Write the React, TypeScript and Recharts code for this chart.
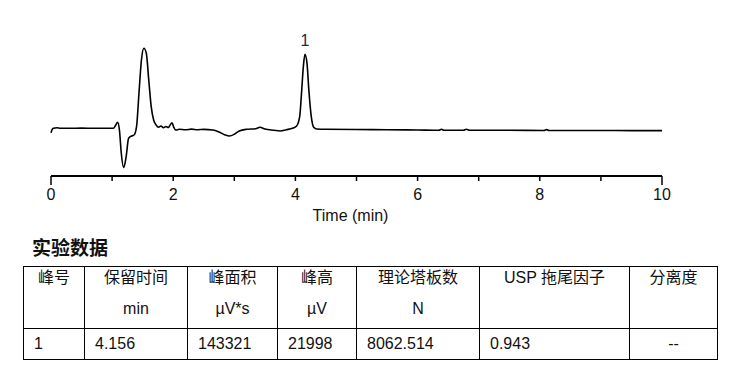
import { LineChart, Line, XAxis, YAxis, ReferenceDot } from "recharts";

// retention time (min) and detector signal (µV)
const times = [
  0, 0.02, 0.04, 0.1, 0.15, 0.3, 0.5, 0.7, 0.9, 1.02, 1.06, 1.09, 1.12, 1.15, 1.19,
  1.23, 1.27, 1.32, 1.36, 1.4, 1.44, 1.48, 1.52, 1.56, 1.6, 1.64, 1.68, 1.72, 1.76,
  1.8, 1.84, 1.88, 1.92, 1.95, 1.98, 2.01, 2.04, 2.1, 2.2, 2.3, 2.4, 2.5, 2.65, 2.75,
  2.85, 2.92, 3.0, 3.08, 3.2, 3.35, 3.42, 3.5, 3.65, 3.75, 3.85, 3.95, 4.02, 4.07,
  4.1, 4.13, 4.156, 4.19, 4.22, 4.26, 4.3, 4.35, 4.5, 5.0, 5.5, 6.0, 6.35, 6.39, 6.43,
  6.75, 6.8, 6.85, 7.5, 8.07, 8.11, 8.15, 9.0, 9.5, 10,
];
const signal = [
  -938, 59, 352, 527, 352, 352, 400, 352, 352, 352, 1318, 2110, -147, -6886, -11193,
  -7970, -2578, -1905, -1612, 820, 10695, 20364, 23792, 22327, 14504, 6680, 2784, 1318, 645,
  1026, 527, 879, 586, 1318, 1992, 645, -147, 59, -59, 100, -60, 30, -147, -733,
  -1612, -1905, -1406, -440, 59, 234, 645, 147, -234, -440, -59, 352, 1026, 3750,
  10607, 18400, 21998, 19397, 11579, 3750, 645, 147, 59, 0, -60, -147, -234, 59, -234,
  -234, 59, -234, -234, -300, -30, -300, -300, -320, -320,
];
const xTicks = [0, 1, 2, 3, 4, 5, 6, 7, 8, 9, 10];

const peakTimes = [4.156];
const peakHeights = [21998];
const peakIds = ["1"];

const headerLines = [
  ["峰号"],
  ["保留时间", "min"],
  ["峰面积", "µV*s"],
  ["峰高", "µV"],
  ["理论塔板数", "N"],
  ["USP 拖尾因子"],
  ["分离度"],
];
const rowValues = [["1", "4.156", "143321", "21998", "8062.514", "0.943", "--"]];
const colWidths = [61, 103, 90, 79, 123, 150, 88];

const data = times.map((t, i) => ({ t, v: signal[i] }));

const FONT = '"Liberation Sans", Arial, "Noto Sans CJK SC", sans-serif';

function TimeTick(props: any) {
  const { x, y, payload } = props;
  const end = payload.value === 0 || payload.value === 10;
  return (
    <g>
      <line x1={x} y1={y} x2={x} y2={y + (end ? 9 : 5)} stroke="#000" strokeWidth={1.5} />
      {payload.value % 2 === 0 && (
        <text x={x} y={y} dy={24} textAnchor="middle" fontSize={16} fill="#111" fontFamily={FONT}>
          {payload.value}
        </text>
      )}
    </g>
  );
}

export default function App() {
  return (
    <div
      style={{
        position: "absolute",
        left: 0,
        top: 0,
        width: 737,
        height: 381,
        background: "#fff",
        fontFamily: FONT,
        color: "#111",
      }}
    >
      <LineChart
        width={737}
        height={230}
        data={data}
        margin={{ top: 20, right: 75, bottom: 8, left: 51 }}
      >
        <XAxis
          dataKey="t"
          type="number"
          domain={[0, 10]}
          ticks={xTicks}
          interval={0}
          height={46}
          tickSize={0}
          tickMargin={0}
          tickLine={false}
          axisLine={{ stroke: "#000", strokeWidth: 2 }}
          tick={<TimeTick />}
          label={{
            value: "Time (min)",
            position: "insideBottom",
            offset: 1,
            dx: -6,
            fontSize: 16,
            fill: "#111",
            fontFamily: FONT,
          }}
        />
        <YAxis hide domain={[-13625, 32084]} allowDataOverflow width={0} />
        <Line
          type="monotone"
          dataKey="v"
          stroke="#000"
          strokeWidth={1.6}
          dot={false}
          isAnimationActive={false}
        />
        {peakTimes.map((pt, i) => (
          <ReferenceDot
            key={peakIds[i]}
            x={pt}
            y={peakHeights[i]}
            r={0}
            stroke="none"
            fill="none"
            label={{
              value: peakIds[i],
              position: "top",
              offset: 8,
              fontSize: 16,
              fill: "#123048",
              fontFamily: FONT,
            }}
          />
        ))}
      </LineChart>

      <div
        style={{
          position: "absolute",
          left: 32,
          top: 235,
          fontSize: 19,
          fontWeight: 700,
          lineHeight: "24px",
          fontFamily: '"Noto Sans CJK SC", sans-serif',
        }}
      >
        实验数据
      </div>

      <table
        style={{
          position: "absolute",
          left: 23,
          top: 266,
          width: colWidths.reduce((a, b) => a + b, 0),
          borderCollapse: "collapse",
          tableLayout: "fixed",
          fontSize: 16,
          fontFamily: FONT,
        }}
      >
        <colgroup>
          {colWidths.map((w, i) => (
            <col key={i} style={{ width: w }} />
          ))}
        </colgroup>
        <tbody>
          <tr style={{ height: 62 }}>
            {headerLines.map((lines, i) => (
              <td
                key={i}
                style={{
                  border: "1px solid #000",
                  padding: 0,
                  verticalAlign: "top",
                  textAlign: "center",
                }}
              >
                {lines.map((ln, j) => (
                  <div key={j} style={{ lineHeight: "20px", marginTop: j === 0 ? 1 : 11 }}>
                    {ln}
                  </div>
                ))}
              </td>
            ))}
          </tr>
          {rowValues.map((row, r) => (
            <tr key={r} style={{ height: 31 }}>
              {row.map((val, i) => (
                <td
                  key={i}
                  style={{
                    border: "1px solid #000",
                    padding: 0,
                    paddingLeft: i === row.length - 1 ? 0 : 10,
                    textAlign: i === row.length - 1 ? "center" : "left",
                    verticalAlign: "middle",
                    lineHeight: "20px",
                  }}
                >
                  {val}
                </td>
              ))}
            </tr>
          ))}
        </tbody>
      </table>
    </div>
  );
}
